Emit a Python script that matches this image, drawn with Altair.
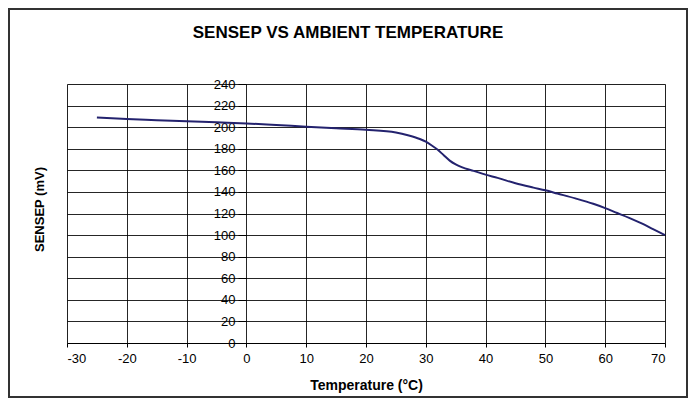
import altair as alt
import pandas as pd

temps = [-25, -20, -15, -10, -5, 0, 5, 10, 15, 20, 25, 27, 29, 30, 31, 32, 33, 34, 35, 36,
         38, 40, 42, 45, 48, 50, 52, 55, 58, 60, 62, 64, 66, 68, 70]
sensep = [209, 207.5, 206.5, 205.5, 204.5, 203.5, 202, 200.5, 199, 197.5, 195, 192.5, 189,
          186.5, 183, 179, 174, 169, 165.5, 163, 159.5, 156, 153, 148, 144, 141.5, 138.5,
          134, 129, 125, 120.5, 116, 111, 105.5, 100]
title_text = ["SENSEP VS AMBIENT TEMPERATURE"]

df = pd.DataFrame({"t": temps, "v": sensep})
tdf = pd.DataFrame({"label": title_text})
FONT = "Arial, Liberation Sans, sans-serif"

line = alt.Chart(df).mark_line(color="#23226e", strokeWidth=2, interpolate="monotone").encode(
    x=alt.X("t:Q", scale=alt.Scale(domain=[-30, 70], nice=False),
            axis=alt.Axis(values=list(range(-30, 71, 10)), title="Temperature (°C)",
                          labelExpr="datum.value + ''",
                          titleFont=FONT, titleFontSize=14, titleFontWeight="bold",
                          titlePadding=13, labelFont=FONT, labelFontSize=13,
                          labelPadding=5, tickSize=4, tickColor="black",
                          domainColor="black", gridColor="black", gridOpacity=0.85,
                          labelColor="black", titleColor="black")),
    y=alt.Y("v:Q", scale=alt.Scale(domain=[0, 240], nice=False),
            axis=alt.Axis(values=list(range(0, 241, 20)), title="SENSEP (mV)",
                          titleFont=FONT, titleFontSize=13, titleFontWeight="bold",
                          titleX=-200, titleY=125, titleColor="black",
                          labelFont=FONT, labelFontSize=13, labelColor="black",
                          offset=-179, domain=False, tickSize=8, tickColor="black",
                          labelPadding=3, gridColor="black", gridOpacity=0.85)),
)

frame = alt.Chart(df).mark_rect(fill=None, stroke="#333333", strokeWidth=1.5, clip=False).encode(
    x=alt.value(-58), x2=alt.value(620), y=alt.value(-75), y2=alt.value(313)
)

title = alt.Chart(tdf).mark_text(font=FONT, fontSize=17, fontWeight="bold", color="black",
                                 align="center", baseline="middle", clip=False).encode(
    text="label:N", x=alt.value(281), y=alt.value(-51)
)

chart = alt.layer(line, frame, title).properties(
    width=598, height=259,
    autosize=alt.AutoSizeParams(type="none"),
    padding={"left": 67, "top": 84, "right": 31, "bottom": 68},
).configure_view(stroke="black", strokeWidth=1).configure(background="white")

chart.save("out.html", embed_options={"renderer": "svg", "actions": False})
